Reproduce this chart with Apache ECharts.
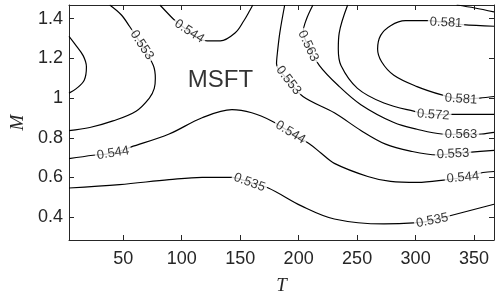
<!DOCTYPE html>
<html><head><meta charset="utf-8">
<script src="https://cdn.jsdelivr.net/npm/echarts@6/dist/echarts.min.js"></script>
<style>html,body{margin:0;padding:0;background:#fff}#c{width:500px;height:300px}</style>
</head><body><div id="c"></div>
<script>
// Tick labels
const xTicks = [50, 100, 150, 200, 250, 300, 350];
const yTicks = [0.4, 0.6, 0.8, 1, 1.2, 1.4];
const xRange = [3.7, 367];
const yRange = [0.285, 1.469];

// Contour lines as [T, M] points
const c553a = [[3.7,1.311],[8.8,1.272],[15.8,1.214],[18.6,1.157],[16.7,1.090],[10.2,1.049],[3.7,1.025]];
const c553b = [[38.5,1.469],[48.3,1.420],[55.4,1.362],[65.9,1.267],[75.8,1.164],[77.5,1.099],[76.6,1.049],[72.4,1.0],[61,0.934],[41.3,0.885],[21.5,0.852],[3.7,0.836]];
const c544b = [[81.4,1.469],[89.3,1.420],[93.6,1.395],[106.5,1.336],[121.8,1.288],[133.1,1.288],[145.8,1.329],[152.9,1.387],[158.5,1.444],[160.8,1.469]];
const c544a = [[3.7,0.695],[24.3,0.712],[41.3,0.723],[56.5,0.753],[89.3,0.819],[117.5,0.901],[143,0.942],[159.9,0.926],[176.9,0.885],[193,0.827],[209.1,0.770],[219.3,0.722],[230.5,0.671],[259.1,0.605],[278.6,0.580],[301.5,0.575],[326.9,0.589],[340.4,0.600],[357.6,0.625],[367,0.630]];
const c535 = [[3.7,0.547],[46.9,0.564],[89.3,0.589],[117.5,0.601],[143,0.601],[157.9,0.575],[174.1,0.547],[202.3,0.457],[230.5,0.391],[272.9,0.366],[298.3,0.371],[314.2,0.383],[329.4,0.407],[367,0.465]];
const c553c = [[188.1,1.469],[183.9,1.329],[181.9,1.231],[181.1,1.173],[191.3,1.089],[203.7,1.008],[230.5,0.926],[253.2,0.837],[274.3,0.768],[295.5,0.733],[318.4,0.714],[332,0.719],[347.8,0.728],[367,0.737]];
const c563 = [[212.2,1.469],[206.5,1.395],[204,1.336],[208.2,1.262],[217.8,1.164],[233.4,1.066],[253.2,0.967],[281.4,0.877],[301.2,0.843],[322.4,0.819],[338.7,0.817],[356.3,0.819],[367,0.827]];
const c572a = [[241.9,1.469],[234.7,1.329],[233.9,1.247],[236.2,1.164],[250.3,1.049],[272.9,0.975],[298.3,0.934],[315,0.916],[330.8,0.918],[367,0.918]];
const c572b = [[335.1,1.469],[350.6,1.454],[367,1.434]];
const c581 = [[367,1.362],[340.4,1.370],[326,1.380],[310,1.390],[291.3,1.390],[278.6,1.365],[270.1,1.316],[267.5,1.247],[270.9,1.183],[281.4,1.115],[301.2,1.058],[322.4,1.016],[338.7,0.995],[354.8,1.0],[367,1.008]];

// Contour labels: text, T, M, rotation
const contourLabels = [
  ['0.553', 65.9, 1.267, -57],
  ['0.544', 106.5, 1.336, -33],
  ['0.544', 41.3, 0.723, 9],
  ['0.535', 157.9, 0.575, -20],
  ['0.544', 193, 0.827, -31],
  ['0.553', 191.3, 1.089, -52],
  ['0.563', 208.2, 1.262, -65],
  ['0.581', 326, 1.380, -3],
  ['0.581', 338.7, 0.995, -4],
  ['0.572', 315, 0.916, -4],
  ['0.563', 338.7, 0.817, 0],
  ['0.553', 332, 0.719, 3],
  ['0.544', 340.4, 0.600, 5],
  ['0.535', 314.2, 0.383, 11]
];
const annotation = ['MSFT', 133.2, 1.089];

const contours = [c553a, c553b, c544b, c544a, c535, c553c, c563, c572a, c572b, c581];
const ax = '#262626';
const chart = echarts.init(document.getElementById('c'));
function xAx(pos, showLabel) {
  return {
    type: 'value', position: pos, min: xRange[0], max: xRange[1],
    axisLine: {show: true, onZero: false, lineStyle: {color: ax, width: 1}},
    axisTick: {show: true, inside: true, length: 5, customValues: xTicks, lineStyle: {color: ax}},
    axisLabel: {show: showLabel, customValues: xTicks, fontSize: 18, color: ax, fontFamily: 'Liberation Sans', margin: 10},
    splitLine: {show: false}
  };
}
function yAx(pos, showLabel) {
  return {
    type: 'value', position: pos, min: yRange[0], max: yRange[1],
    axisLine: {show: true, onZero: false, lineStyle: {color: ax, width: 1}},
    axisTick: {show: true, inside: true, length: 5, customValues: yTicks, lineStyle: {color: ax}},
    axisLabel: {show: showLabel, customValues: yTicks, fontSize: 18, color: ax, fontFamily: 'Liberation Sans', margin: 6},
    splitLine: {show: false}
  };
}
const xb = xAx('bottom', true);
Object.assign(xb, {name: 'T', nameLocation: 'middle', nameGap: 36,
  nameTextStyle: {fontFamily: 'Liberation Serif', fontStyle: 'italic', fontSize: 19, color: ax}});
const yl = yAx('left', true);
Object.assign(yl, {name: 'M', nameLocation: 'middle', nameGap: 42, nameRotate: 90,
  nameTextStyle: {fontFamily: 'Liberation Serif', fontStyle: 'italic', fontSize: 19, color: ax}});

const series = contours.map(c => ({
  type: 'line', data: c, smooth: 0.35, symbol: 'none', silent: true,
  xAxisIndex: 0, yAxisIndex: 0,
  lineStyle: {color: '#000', width: 1.2}, z: 2
}));
series.push({
  type: 'scatter', xAxisIndex: 0, yAxisIndex: 0, symbolSize: 1, silent: true,
  itemStyle: {color: 'rgba(0,0,0,0)'}, z: 5,
  label: {show: true, position: 'inside', fontSize: 13, fontFamily: 'Liberation Sans', color: '#000',
    backgroundColor: '#fff', padding: [0, 2]},
  data: contourLabels.map(l => ({value: [l[1], l[2]], label: {rotate: l[3], formatter: l[0]}}))
});
series.push({
  type: 'scatter', xAxisIndex: 0, yAxisIndex: 0, symbolSize: 1, silent: true,
  itemStyle: {color: 'rgba(0,0,0,0)'}, z: 5,
  label: {show: true, position: 'inside', fontSize: 24, fontFamily: 'Liberation Sans', color: '#000',
    formatter: annotation[0]},
  data: [[annotation[1], annotation[2]]]
});

chart.setOption({
  animation: false,
  backgroundColor: '#fff',
  grid: {left: 65, right: 6, top: 5, bottom: 55},
  xAxis: [xb, xAx('top', false)],
  yAxis: [yl, yAx('right', false)],
  series: series
});
</script></body></html>
